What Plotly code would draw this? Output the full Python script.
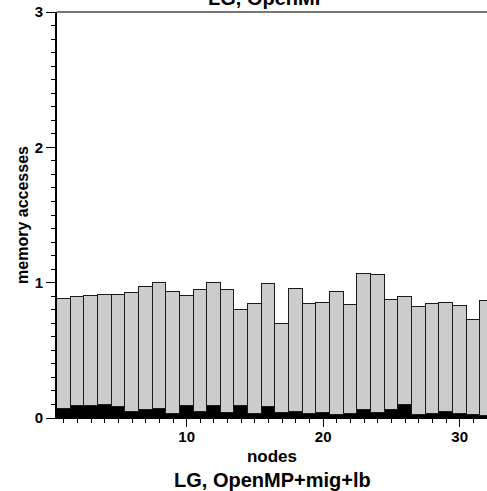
import plotly.graph_objects as go

nodes = list(range(1, 33))
total = [0.88, 0.897, 0.90, 0.909, 0.909, 0.924, 0.966, 0.995, 0.934, 0.90,
         0.946, 0.995, 0.944, 0.798, 0.84, 0.99, 0.692, 0.956, 0.842, 0.85,
         0.934, 0.833, 1.064, 1.057, 0.87, 0.894, 0.823, 0.84, 0.85, 0.828,
         0.722, 0.862]
local = [0.066, 0.089, 0.086, 0.096, 0.079, 0.042, 0.057, 0.069, 0.027, 0.089,
         0.044, 0.086, 0.035, 0.089, 0.032, 0.079, 0.039, 0.044, 0.032, 0.035,
         0.022, 0.027, 0.059, 0.039, 0.059, 0.096, 0.02, 0.027, 0.044, 0.027,
         0.022, 0.012]
remote = [t - l for t, l in zip(total, local)]

FONT = "Arial, Liberation Sans, sans-serif"

fig = go.Figure()
fig.add_trace(go.Bar(x=nodes, y=local, marker=dict(color="black", line=dict(color="black", width=1.2)),
                     showlegend=False))
fig.add_trace(go.Bar(x=nodes, y=remote, marker=dict(color="#cccccc", line=dict(color="#1a1a1a", width=1.2)),
                     showlegend=False))

fig.update_layout(
    width=487, height=491,
    margin=dict(l=57, r=0, t=12, b=73),
    paper_bgcolor="white", plot_bgcolor="white",
    barmode="stack", bargap=0,
    font=dict(family=FONT, size=14, color="black"),
    xaxis=dict(range=[0.5, 32.0], tick0=0, dtick=10, ticks="outside", ticklen=8, tickwidth=1,
               tickcolor="black", showgrid=False, zeroline=False,
               showline=True, linecolor="black", linewidth=1,
               tickfont=dict(family=FONT, size=15, weight="bold"), ticklabelstandoff=-3,
               minor=dict(dtick=1, tick0=0, ticks="outside", ticklen=4, tickcolor="black", showgrid=False),
               title=dict(text="nodes", font=dict(family=FONT, size=17, weight="bold"), standoff=6)),
    yaxis=dict(range=[0, 3], tick0=0, dtick=1, ticks="outside", ticklen=9, tickwidth=1,
               tickcolor="black", showgrid=False, zeroline=False,
               showline=True, linecolor="black", linewidth=2,
               tickfont=dict(family=FONT, size=15, weight="bold"),
               minor=dict(dtick=0.1, tick0=0, ticks="outside", ticklen=4, tickcolor="black", showgrid=False),
               title=dict(text="memory accesses", font=dict(family=FONT, size=16, weight="bold"), standoff=2)),
    shapes=[dict(type="line", xref="paper", yref="paper", x0=0, x1=1, y0=1, y1=1,
                 line=dict(color="#777777", width=2))],
    annotations=[
        dict(text="LG, OpenMP", xref="paper", yref="paper", x=0.49, y=1, xanchor="center",
             yanchor="bottom", yshift=1, showarrow=False,
             font=dict(family=FONT, size=20, weight="bold")),
        dict(text="LG, OpenMP+mig+lb", xref="paper", yref="paper", x=0.5, y=0, xanchor="center",
             yanchor="top", yshift=-49, showarrow=False,
             font=dict(family=FONT, size=20, weight="bold")),
    ],
)

fig.write_html("out.html")
